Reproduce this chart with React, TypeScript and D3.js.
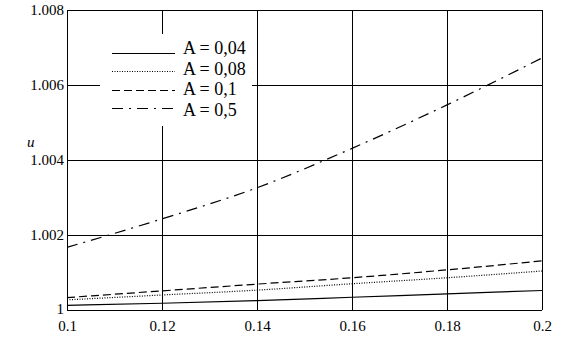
import React, { useEffect, useRef } from "react";
import * as d3 from "d3";

// values
const xValues = [0.1, 0.12, 0.14, 0.16, 0.18, 0.2];
const uA004 = [1.000125, 1.00018, 1.00025, 1.00034, 1.00043, 1.00052];
const uA008 = [1.00027, 1.0004, 1.00053, 1.0007, 1.00086, 1.00104];
const uA01 = [1.00033, 1.00051, 1.00069, 1.00086, 1.00107, 1.00131];
const uA05 = [1.00167, 1.00243, 1.00326, 1.00431, 1.00547, 1.00672];

const xTicks = [0.1, 0.12, 0.14, 0.16, 0.18, 0.2];
const xTickLabels = ["0.1", "0.12", "0.14", "0.16", "0.18", "0.2"];
const yTicks = [1, 1.002, 1.004, 1.006, 1.008];
const yTickLabels = ["1", "1.002", "1.004", "1.006", "1.008"];

const seriesNames = ["A = 0,04", "A = 0,08", "A = 0,1", "A = 0,5"];
const seriesValues = [uA004, uA008, uA01, uA05];
const seriesDash = ["none", "1,1.5", "8,4", "11,6,2,6"];

export default function App() {
  const ref = useRef<SVGSVGElement>(null);

  useEffect(() => {
    const margin = { top: 10, right: 20, bottom: 30, left: 67 };
    const W = 562, H = 340;
    const w = W - margin.left - margin.right;
    const h = H - margin.top - margin.bottom;

    const svg = d3.select(ref.current);
    svg.selectAll("*").remove();
    const g = svg.append("g").attr("transform", `translate(${margin.left},${margin.top})`);

    const x = d3.scaleLinear().domain([0.1, 0.2]).range([0, w]);
    const y = d3.scaleLinear().domain([1, 1.008]).range([h, 0]);

    const font = "'Liberation Serif', 'Times New Roman', serif";

    // grid
    g.append("g")
      .selectAll("line")
      .data(xTicks)
      .join("line")
      .attr("x1", (d) => Math.round(x(d)) + 0.5)
      .attr("x2", (d) => Math.round(x(d)) + 0.5)
      .attr("y1", 0)
      .attr("y2", h)
      .attr("stroke", "#000")
      .attr("stroke-width", 1);
    g.append("g")
      .selectAll("line")
      .data(yTicks)
      .join("line")
      .attr("y1", (d) => Math.round(y(d)) + 0.5)
      .attr("y2", (d) => Math.round(y(d)) + 0.5)
      .attr("x1", 0)
      .attr("x2", w)
      .attr("stroke", "#000")
      .attr("stroke-width", 1);

    // axes (labels only)
    const xAxis = g.append("g")
      .attr("transform", `translate(0,${h})`)
      .call(d3.axisBottom(x).tickValues(xTicks).tickSize(0).tickPadding(10)
        .tickFormat((d, i) => xTickLabels[i]));
    const yAxis = g.append("g")
      .call(d3.axisLeft(y).tickValues(yTicks).tickSize(0).tickPadding(3)
        .tickFormat((d, i) => yTickLabels[i]));
    [xAxis, yAxis].forEach((a) => {
      a.select(".domain").remove();
      a.selectAll("text").attr("font-family", font).attr("font-size", 15).attr("fill", "#000");
    });
    xAxis.selectAll("text").attr("dy", "0.71em");
    yAxis.selectAll("text").attr("dy", "0.32em");
    // bottom "1" sits a little higher so it clears "0.1"
    yAxis.selectAll("text").filter((d) => d === 1).attr("dy", "0.2em");

    // curves
    const line = d3.line<number>()
      .x((d, i) => x(xValues[i]))
      .y((d) => y(d))
      .curve(d3.curveMonotoneX);

    g.append("g")
      .selectAll("path")
      .data(seriesValues)
      .join("path")
      .attr("d", (d) => line(d))
      .attr("fill", "none")
      .attr("stroke", "#000")
      .attr("stroke-width", 1.2)
      .attr("stroke-dasharray", (d, i) => seriesDash[i]);

    // legend with white background
    const lg = svg.append("g");
    lg.append("rect")
      .attr("x", 100).attr("y", 34).attr("width", 152).attr("height", 92)
      .attr("fill", "#fff");
    seriesNames.forEach((name, i) => {
      const ly = Math.round(53 + i * 18.3);
      lg.append("line")
        .attr("x1", 112).attr("x2", 175)
        .attr("y1", ly + 0.5).attr("y2", ly + 0.5)
        .attr("stroke", "#000")
        .attr("stroke-width", 1.2)
        .attr("stroke-dasharray", seriesDash[i]);
      lg.append("text")
        .attr("x", 183).attr("y", 54 + i * 20.5)
        .attr("font-family", font).attr("font-size", 18)
        .text(name);
    });

    // axis title
    svg.append("text")
      .attr("x", 27).attr("y", 147)
      .attr("font-family", font).attr("font-size", 15)
      .attr("font-style", "italic")
      .text("u");
  }, []);

  return (
    <svg ref={ref} width={562} height={340}
      style={{ position: "absolute", left: 0, top: 0, background: "#fff" }} />
  );
}
